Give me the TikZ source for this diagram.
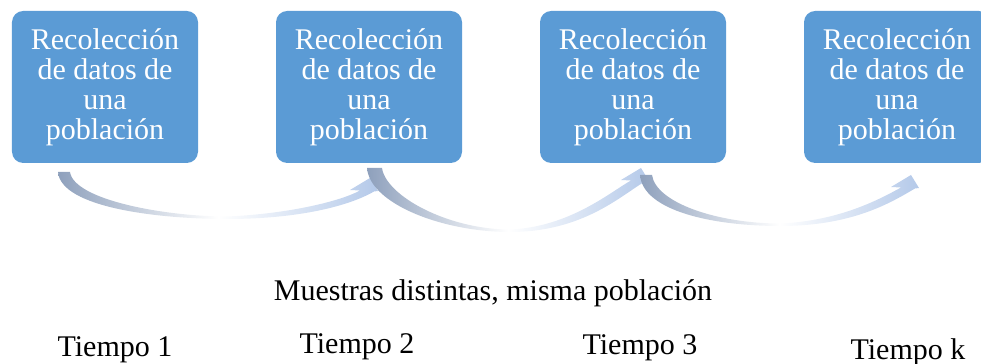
\documentclass[tikz,border=0pt]{standalone}
\usepackage{fontspec}
\setmainfont{Liberation Serif}
\definecolor{boxblue}{HTML}{5B9BD5}
\definecolor{arrowdark}{HTML}{8EA0BC}
\definecolor{arrowlight}{HTML}{B4C9E9}

\begin{document}
\begin{tikzpicture}[x=0.4pt,y=-0.4pt,
    recbox/.style={rectangle,rounded corners=4.5pt,fill=boxblue,text=white,align=center,
      minimum width=74.4pt,minimum height=60.8pt,inner sep=0pt,font=\fontsize{12}{12}\selectfont},
    arrowshade/.style={left color=arrowdark,right color=arrowlight,middle color=white},
    timelabel/.style={font=\fontsize{12}{14}\selectfont}]
      \useasboundingbox (0,0) rectangle (981,364);
      % curved arrows under the boxes
      \foreach \sl/\sr/\sy/\bx/\by/\tx/\ty in {58/70/172/227/219/370/178,
                                                 367/382/168/510/232/641/168,
                                                 640/652/175/780/226/911/175}
      \shade[arrowshade] (\sl,\sy) .. controls (\sl+3,\sy+36) and (\bx-67,\by) .. (\bx,\by)
        .. controls (\bx+73,\by) and (\tx-20,\ty+27.5) .. (\tx+4,\ty+13.5)
        -- (\tx+8,\ty+13) -- (\tx,\ty) -- (\tx-20,\ty+12) -- (\tx-10,\ty+12.5)
        .. controls (\tx-30,\ty+23.5) and (\bx+60,\by-5) .. (\bx,\by-2.5)
        .. controls (\bx-62,\by-2.5) and (\sr+4,\sy+28) .. (\sr,\sy) -- cycle;
      % boxes
      \foreach \i/\x in {1/105,2/369,3/633,4/897}
      \node[recbox] (rec\i) at (\x,87) {Recolección\\de datos de\\una\\población};
      \node[timelabel] (muestras) at (493,293) {Muestras distintas, misma población};
      \node[timelabel] (tiempo1) at (115,350) {Tiempo 1};
      \node[timelabel] (tiempo2) at (357,347) {Tiempo 2};
      \node[timelabel] (tiempo3) at (640,348) {Tiempo 3};
      \node[timelabel] (tiempok) at (908,352) {Tiempo k};
    \end{tikzpicture}
\end{document}
